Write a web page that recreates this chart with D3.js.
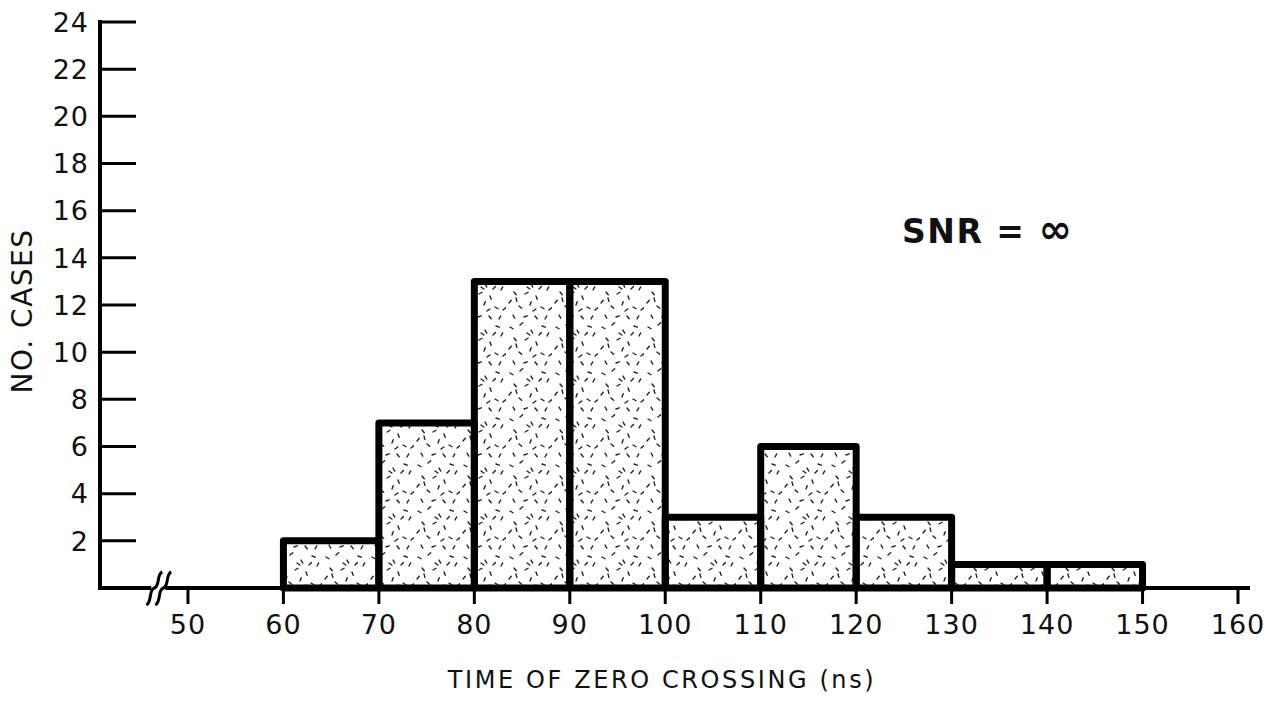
<!DOCTYPE html>
<html>
<head>
<meta charset="utf-8">
<script src="https://cdn.jsdelivr.net/npm/d3@7"></script>
<style>
  html, body { margin: 0; padding: 0; background: #fff; }
  svg { display: block; }
  text { font-family: "DejaVu Sans", "Open Sans", sans-serif; fill: #111; }
</style>
</head>
<body>
<svg id="chart" width="1279" height="703"></svg>
<script>
// ---- data ----
const binStarts = [60, 70, 80, 90, 100, 110, 120, 130, 140];
const binWidth = 10;
const counts = [2, 7, 13, 13, 3, 6, 3, 1, 1];
const xTicks = [50, 60, 70, 80, 90, 100, 110, 120, 130, 140, 150, 160];
const yTicks = [2, 4, 6, 8, 10, 12, 14, 16, 18, 20, 22, 24];
const xTitle = "TIME OF ZERO CROSSING (ns)";
const yTitle = "NO. CASES";
const annotation = "SNR = ";
const annotationSymbol = "\u221E";

const svg = d3.select("#chart");
const x = d3.scaleLinear().domain([40, 160]).range([92.5, 1238]);
const y = d3.scaleLinear().domain([0, 24]).range([588, 22]);
const axisX = 100;

// stipple pattern (decorative)
const defs = svg.append("defs");
const pat = defs.append("pattern").attr("id", "stip").attr("patternUnits", "userSpaceOnUse")
  .attr("width", 46).attr("height", 46);
const marks = [[4,5,30],[14,3,-40],[25,8,60],[36,4,20],[41,14,-60],[8,16,50],[19,18,-30],[30,20,70],
  [3,27,-50],[13,30,40],[24,29,-70],[35,31,30],[43,34,-40],[7,39,60],[18,41,-20],[29,40,50],[39,43,-60],
  [21,11,35],[33,13,-45],[10,22,75],[27,35,-35]];
pat.selectAll("line").data(marks).join("line")
  .attr("x1", d => d[0]).attr("y1", d => d[1])
  .attr("x2", d => d[0] + 3.5 * Math.cos(d[2] * Math.PI / 180))
  .attr("y2", d => d[1] + 3.5 * Math.sin(d[2] * Math.PI / 180))
  .attr("stroke", "#222").attr("stroke-width", 1.4).attr("stroke-linecap", "round");

// bars
svg.append("g").selectAll("rect").data(binStarts).join("rect")
  .attr("x", (d) => x(d))
  .attr("y", (d, i) => y(counts[i]))
  .attr("width", d => x(d + binWidth) - x(d))
  .attr("height", (d, i) => y(0) - y(counts[i]))
  .attr("fill", "url(#stip)")
  .attr("stroke", "#000").attr("stroke-width", 7).attr("stroke-linejoin", "round");

// x axis line
svg.append("line").attr("x1", axisX).attr("x2", 1250).attr("y1", y(0)).attr("y2", y(0))
  .attr("stroke", "#000").attr("stroke-width", 4);
// x ticks
svg.append("g").selectAll("line").data(xTicks).join("line")
  .attr("x1", d => x(d)).attr("x2", d => x(d))
  .attr("y1", y(0)).attr("y2", y(0) + 16)
  .attr("stroke", "#000").attr("stroke-width", 3);
svg.append("g").selectAll("text").data(xTicks).join("text")
  .attr("x", d => x(d)).attr("y", 634)
  .attr("text-anchor", "middle").attr("font-size", 27).attr("letter-spacing", 1).text(d => d);

// axis break
const bx = x(47);
const brk = svg.append("g").attr("fill", "none").attr("stroke", "#000").attr("stroke-width", 3);
brk.append("rect").attr("x", bx - 8).attr("y", y(0) - 4).attr("width", 14).attr("height", 8).attr("fill", "#fff").attr("stroke", "none");
[-5, 4].forEach(o => {
  brk.append("path").attr("d",
    `M ${bx + o - 8} ${y(0) + 17} C ${bx + o - 2} ${y(0) + 14}, ${bx + o - 6} ${y(0) + 2}, ${bx + o} ${y(0)} S ${bx + o + 2} ${y(0) - 14}, ${bx + o + 8} ${y(0) - 16}`);
});

// y axis
svg.append("line").attr("x1", axisX).attr("x2", axisX).attr("y1", y(24) - 2).attr("y2", y(0) + 2)
  .attr("stroke", "#000").attr("stroke-width", 4);
svg.append("g").selectAll("line").data(yTicks).join("line")
  .attr("x1", axisX).attr("x2", axisX + 36)
  .attr("y1", d => y(d)).attr("y2", d => y(d))
  .attr("stroke", "#000").attr("stroke-width", 3);
svg.append("g").selectAll("text").data(yTicks).join("text")
  .attr("x", 89).attr("y", d => y(d)).attr("dy", "0.36em")
  .attr("text-anchor", "end").attr("font-size", 27).attr("letter-spacing", 1).text(d => d);

// titles
svg.append("text").attr("x", 662).attr("y", 688).attr("text-anchor", "middle")
  .attr("font-size", 24).attr("letter-spacing", 2.6).text(xTitle);
svg.append("text").attr("transform", "translate(32,311) rotate(-90)").attr("text-anchor", "middle")
  .attr("font-size", 28).attr("letter-spacing", 1.5).text(yTitle);
const ann = svg.append("text").attr("x", 902).attr("y", 243).attr("font-size", 33).attr("font-weight", 600)
  .attr("letter-spacing", 1.5);
ann.append("tspan").text(annotation);
ann.append("tspan").attr("font-size", 40).attr("font-weight", 700).text(annotationSymbol);
</script>
</body>
</html>
